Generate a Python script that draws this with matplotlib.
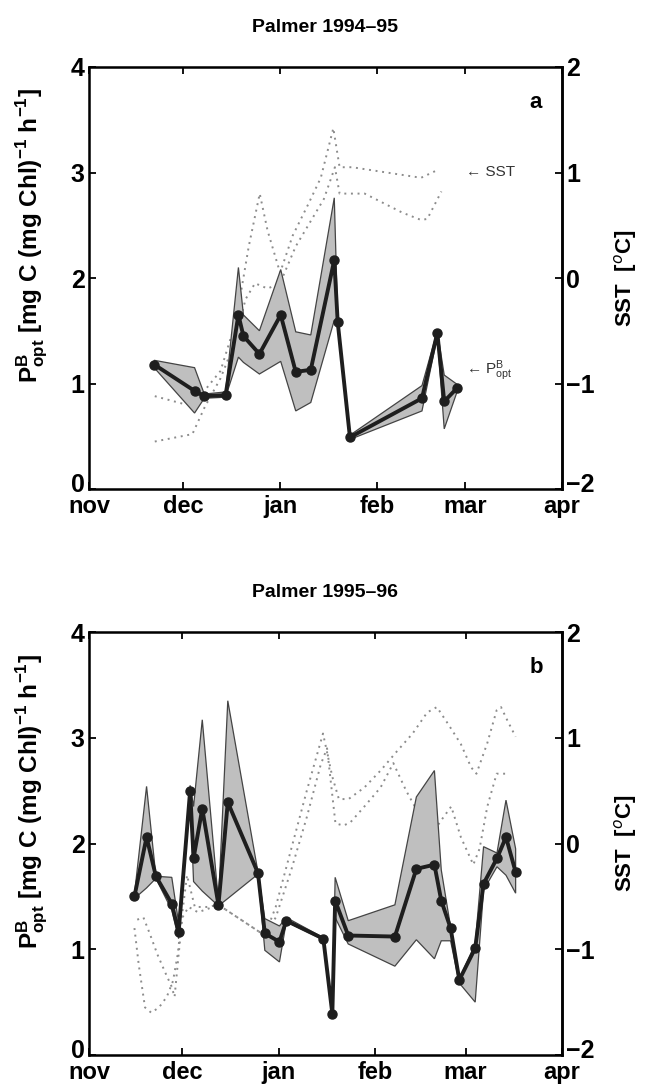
import numpy as np
import matplotlib
matplotlib.use('Agg')
import matplotlib.pyplot as plt
import matplotlib.transforms as mtransforms

plt.rcParams['font.family'] = ['Liberation Sans', 'DejaVu Sans']
plt.rcParams['mathtext.fontset'] = 'custom'
plt.rcParams['mathtext.rm'] = 'Liberation Sans:bold'
plt.rcParams['mathtext.bf'] = 'Liberation Sans:bold'
plt.rcParams['mathtext.sf'] = 'Liberation Sans'

# days since 1 Nov
month_names = ['nov', 'dec', 'jan', 'feb', 'mar', 'apr']
month_days_a = [0, 30, 61, 92, 120, 151]
month_days_b = [0, 30, 61, 92, 121, 152]

# Palmer 1994-95: P^B_opt with range
days_a = [20.8, 33.7, 36.8, 43.6, 47.7, 49.3, 54.4, 61.2, 66.0, 70.8, 78.3, 79.4,
          83.3, 106.3, 111.2, 113.4, 117.6]
pbopt_a = [1.18, 0.93, 0.88, 0.89, 1.65, 1.45, 1.28, 1.65, 1.11, 1.13, 2.17, 1.58,
           0.49, 0.86, 1.48, 0.83, 0.96]
pb_hi_a = [1.22, 1.15, 0.90, 0.92, 2.10, 1.65, 1.50, 2.08, 1.49, 1.46, 2.76, 1.62,
           0.51, 0.98, 1.50, 1.08, 0.99]
pb_lo_a = [1.15, 0.72, 0.86, 0.87, 1.25, 1.20, 1.09, 1.21, 0.74, 0.82, 1.60, 1.55,
           0.47, 0.74, 1.45, 0.57, 0.93]

# SST 1994-95 (two records)
sst1_days_a = [21, 31, 36, 42, 47, 51, 54.5, 57, 61, 65, 70, 74, 78, 80, 84, 95, 106, 111]
sst1_a = [-1.12, -1.20, -1.10, -0.88, -0.40, 0.30, 0.80, 0.45, 0.05, 0.40, 0.70, 0.95,
          1.42, 1.05, 1.05, 1.00, 0.95, 1.02]
sst2_days_a = [21, 33, 37, 42, 46, 50, 53, 57, 61, 66, 70, 75, 78.5, 80, 88, 100, 106,
               108, 112.5]
sst2_a = [-1.55, -1.48, -1.22, -0.95, -0.65, -0.20, -0.05, -0.10, -0.05, 0.30, 0.50,
          0.75, 1.05, 0.80, 0.80, 0.62, 0.55, 0.56, 0.82]

# Palmer 1995-96
days_b = [14.6, 18.5, 21.5, 26.6, 28.8, 32.5, 33.6, 36.4, 41.6, 44.6, 54.3, 56.5,
          61.2, 63.4, 75.3, 78.2, 79.1, 83.3, 98.3, 105.2, 111.0, 113.2, 116.2, 119.0,
          124.1, 126.8, 131.1, 134.0, 137.1]
pbopt_b = [1.50, 2.06, 1.69, 1.43, 1.16, 2.50, 1.86, 2.33, 1.42, 2.39, 1.72, 1.15,
           1.07, 1.27, 1.10, 0.39, 1.46, 1.13, 1.12, 1.76, 1.80, 1.46, 1.20, 0.71,
           1.01, 1.62, 1.86, 2.06, 1.73]
pb_hi_b = [1.52, 2.54, 1.69, 1.68, 1.25, 2.55, 2.35, 3.17, 1.45, 3.35, 1.73, 1.29,
           1.22, 1.30, 1.11, 0.40, 1.68, 1.27, 1.42, 2.44, 2.69, 1.75, 1.21, 0.72,
           1.05, 1.97, 1.91, 2.41, 1.95]
pb_lo_b = [1.48, 1.58, 1.67, 1.37, 1.10, 2.45, 1.64, 1.55, 1.41, 1.48, 1.71, 0.99,
           0.88, 1.26, 1.09, 0.38, 1.30, 1.05, 0.84, 1.09, 0.91, 1.08, 1.08, 0.68,
           0.50, 1.56, 1.78, 1.70, 1.53]

sst1_days_b = [14.6, 16, 18, 20, 22.5, 25, 27, 28.5, 30, 31.5, 34, 38, 41.6, 56.5, 60,
               65, 70, 75.2, 78.2, 80.3, 83.4, 88.5, 93.7, 98.9, 104, 108.7, 111.8,
               115.4, 119.5, 122.8, 124.5, 128, 131, 132.4, 134.5, 137.1]
sst1_b = [-0.80, -1.15, -1.55, -1.60, -1.55, -1.45, -1.30, -1.05, -0.65, -0.30, -0.60,
          -0.60, -0.58, -0.87, -0.60, -0.05, 0.50, 1.04, 0.63, 0.42, 0.42, 0.53, 0.69,
          0.87, 1.04, 1.24, 1.29, 1.13, 0.94, 0.72, 0.66, 0.95, 1.26, 1.29, 1.16, 1.01]
sst2_days_b = [15.5, 17.5, 19.5, 22, 24.5, 26.5, 27.5, 28.8, 30, 32, 35, 38, 41.6, 56.5,
               60, 65, 70, 74.5, 76.5, 79.2, 81.8, 84, 88.5, 93.7, 97.8, 101.9, 106,
               110.2, 113.2, 116.4, 119.5, 123.5, 125.5, 128, 131, 134]
sst2_b = [-0.72, -0.70, -0.85, -1.05, -1.22, -1.35, -1.45, -1.05, -0.70, -0.60, -0.65,
          -0.62, -0.58, -0.87, -0.70, -0.25, 0.25, 0.75, 0.90, 0.19, 0.17, 0.20, 0.35,
          0.53, 0.76, 0.50, 0.28, 0.09, 0.22, 0.35, 0.06, -0.20, -0.05, 0.35, 0.66, 0.66]

W, H = 656, 1089
fig = plt.figure(figsize=(W / 100, H / 100), dpi=100)

line_col = '#1e1e1e'
band_col = '#bfbfbf'
sst_col = '#8c8c8c'

# nudge the lowest y tick labels up so they sit above the month names
lift = mtransforms.ScaledTranslation(0, 7 / 100, fig.dpi_scale_trans)


def panel(rect, title, letter, days, p, hi, lo, sst_sets, mdays, notes):
    ax = fig.add_axes(rect)
    d = np.array(days)
    ax.fill(np.r_[d, d[::-1]], np.r_[hi, np.array(lo)[::-1]],
            facecolor=band_col, edgecolor='#444444', lw=0.9, zorder=2)
    ax.plot(days, p, '-o', color=line_col, lw=2.8, ms=6.5, zorder=4)
    ax.set_xlim(mdays[0], mdays[-1])
    ax.set_ylim(0, 4)
    ax.set_yticks([0, 1, 2, 3, 4])
    ax.set_xticks(mdays)
    ax.set_xticklabels(month_names)
    ax.tick_params(axis='y', direction='in', length=5, width=1.3, labelsize=18, pad=3)
    ax.tick_params(axis='x', direction='in', length=5, width=1.3, labelsize=17,
                   top=True, pad=4)
    for lab in ax.get_xticklabels() + ax.get_yticklabels():
        lab.set_fontweight('bold')
    for s in ax.spines.values():
        s.set_linewidth(1.8)

    ax2 = ax.twinx()
    for sd, sv in sst_sets:
        ax2.plot(sd, sv, color=sst_col, lw=1.4, ls=(0, (1, 2.4)), zorder=1)
    ax2.set_ylim(-2, 2)
    ax2.set_yticks([-2, -1, 0, 1, 2])
    ax2.tick_params(direction='in', length=5, width=1.3, labelsize=18, pad=3)
    for lab in ax2.get_yticklabels():
        lab.set_fontweight('bold')
    ax2.spines['right'].set_linewidth(1.8)
    ax.set_zorder(ax2.get_zorder() + 1)
    ax.patch.set_visible(False)

    for lab in (ax.get_yticklabels()[0], ax2.get_yticklabels()[0]):
        lab.set_transform(lab.get_transform() + lift)

    ax.set_ylabel(r'$\mathbf{P^{B}_{opt}}$ [mg C (mg Chl)$^{-1}$ h$^{-1}$]',
                  fontsize=17.5, fontweight='bold')
    ax.yaxis.set_label_coords(-0.085, 0.6)
    ax2.set_ylabel(r'SST  [$^{o}$C]', fontsize=16, fontweight='bold')
    ax2.yaxis.set_label_coords(1.105, 0.5)

    ax.text(0.5, 1.093, title, transform=ax.transAxes, ha='center', va='center',
            fontsize=14, fontweight='bold')
    ax.text(0.945, 0.915, letter, transform=ax.transAxes, ha='center', va='center',
            fontsize=16, fontweight='bold')
    if notes:
        ax2.text(120.5, 1.0, '\u2190 SST', fontsize=11, va='center', color='#333333')
        ax.text(120.5, 1.12, '\u2190 ' + r'$\mathsf{P^{B}_{opt}}$', fontsize=11,
                va='center', color='#333333')
    return ax


left, right = 89, 562
panel([left / W, 1 - 489 / H, (right - left) / W, 422 / H], 'Palmer 1994\u201395', 'a',
      days_a, pbopt_a, pb_hi_a, pb_lo_a,
      [(sst1_days_a, sst1_a), (sst2_days_a, sst2_a)], month_days_a, True)
panel([left / W, 1 - 1055 / H, (right - left) / W, 423 / H], 'Palmer 1995\u201396', 'b',
      days_b, pbopt_b, pb_hi_b, pb_lo_b,
      [(sst1_days_b, sst1_b), (sst2_days_b, sst2_b)], month_days_b, False)

fig.savefig('out.png', dpi=100)
